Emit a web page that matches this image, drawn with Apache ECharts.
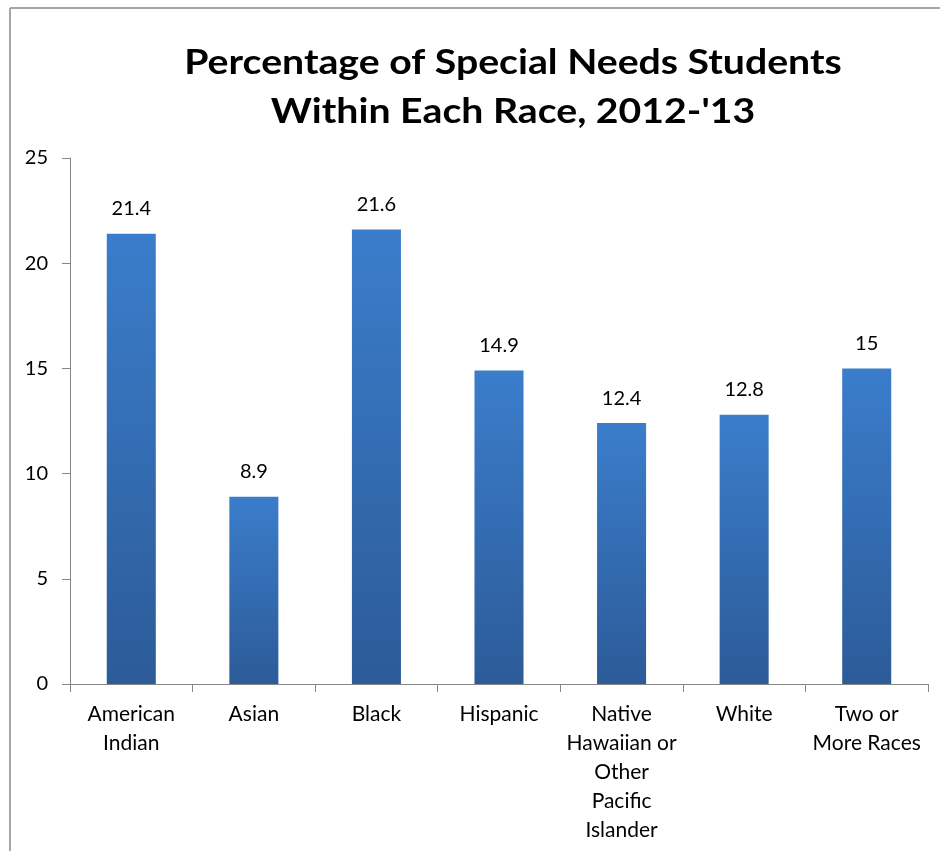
<!DOCTYPE html>
<html>
<head>
<meta charset="utf-8">
<script src="https://cdn.jsdelivr.net/npm/echarts@6/dist/echarts.min.js"></script>
<style>
  html, body { margin: 0; padding: 0; background: #fff; }
  #chart { width: 940px; height: 851px; }
</style>
</head>
<body>
<div id="chart"></div>
<script>
// Share of students receiving special-needs services, by race, 2012-'13
const categories = [
  'American\nIndian',
  'Asian',
  'Black',
  'Hispanic',
  'Native\nHawaiian or\nOther\nPacific\nIslander',
  'White',
  'Two or\nMore Races'
];
const percentages = [21.4, 8.9, 21.6, 14.9, 12.4, 12.8, 15];
const yTicks = { min: 0, max: 25, interval: 5 };
const titleLines = ['Percentage of Special Needs Students', "Within Each Race, 2012-'13"];

const FONT = 'Lato, "Open Sans", sans-serif';
const chart = echarts.init(document.getElementById('chart'), null, { renderer: 'canvas' });

// title lines are drawn slightly widened to suit the condensed heading face
const titleText = (text, y) => ({
  type: 'text', x: 513, y: y, scaleX: 1.12,
  style: { text: text, font: 'bold 35px ' + FONT, fill: '#000', align: 'center', verticalAlign: 'middle' }
});

chart.setOption({
  backgroundColor: '#ffffff',
  animation: false,
  graphic: [
    // chart frame (top and left edges)
    { type: 'line', shape: { x1: 10, y1: 8, x2: 940, y2: 8 }, style: { stroke: '#a6a6a6', lineWidth: 2 } },
    { type: 'line', shape: { x1: 10, y1: 8, x2: 10, y2: 851 }, style: { stroke: '#a6a6a6', lineWidth: 2 } },
    titleText(titleLines[0], 63),
    titleText(titleLines[1], 112)
  ],
  grid: { left: 70, right: 12, top: 158, bottom: 167, containLabel: false },
  xAxis: {
    type: 'category',
    data: categories,
    axisLine: { lineStyle: { color: '#868686', width: 1 } },
    axisTick: { show: true, length: 8, alignWithLabel: false, lineStyle: { color: '#868686' } },
    axisLabel: {
      color: '#000', fontFamily: FONT, fontSize: 21, lineHeight: 29, margin: 16,
      interval: 0, align: 'center', verticalAlign: 'top'
    }
  },
  yAxis: {
    type: 'value',
    min: yTicks.min, max: yTicks.max, interval: yTicks.interval,
    axisLine: { show: true, lineStyle: { color: '#868686', width: 1 } },
    axisTick: { show: true, length: 8, inside: false, lineStyle: { color: '#868686' } },
    splitLine: { show: false },
    axisLabel: { color: '#000', fontFamily: FONT, fontSize: 20, margin: 22 }
  },
  series: [{
    type: 'bar',
    data: percentages,
    barWidth: '40%',
    itemStyle: {
      color: new echarts.graphic.LinearGradient(0, 0, 0, 1, [
        { offset: 0, color: '#3b7dcb' },
        { offset: 1, color: '#2c5b98' }
      ])
    },
    label: {
      show: true, position: 'top', distance: 15,
      color: '#000', fontFamily: FONT, fontSize: 20
    }
  }]
});
</script>
</body>
</html>
